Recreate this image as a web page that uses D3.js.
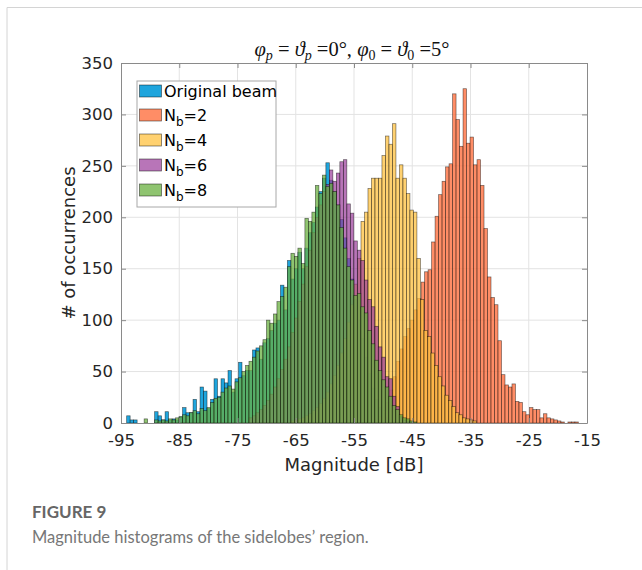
<!DOCTYPE html>
<html>
<head>
<meta charset="utf-8">
<script src="https://cdn.jsdelivr.net/npm/d3@7"></script>
<style>
  body { margin: 0; background: #fff; }
  text { font-family: "DejaVu Sans", sans-serif; }
</style>
</head>
<body>
<svg id="fig" width="642" height="570"></svg>
<script>
// histogram bin width in dB
var binW = 0.6;

// Original beam
var beamStart = -94.03;
var beamCounts = [7, 3, 3, 0, 0, 0, 0, 0, 11, 7, 3, 11, 3, 4, 3, 6, 15, 10, 10, 23,
  11, 35, 31, 14, 23, 43, 26, 43, 39, 51, 30, 43, 59, 46, 51, 51, 71, 73, 62, 78,
  82, 90, 97, 100, 134, 110, 158, 140, 150, 166, 150, 170, 185, 195, 210, 225, 238, 253, 236, 225,
  212, 198, 180, 160, 140, 120, 100, 82, 64, 48, 34, 23, 15, 9, 5, 3, 2, 1];

// N_b = 2
var nb2Start = -51.88;
var nb2Counts = [1, 3, 6, 12, 20, 32, 45, 60, 72, 84, 92, 100, 110, 121, 137, 147, 149, 176, 201, 222,
  235, 249, 252, 320, 295, 269, 325, 272, 278, 251, 256, 231, 189, 142, 122, 115, 80, 47, 37, 35,
  38, 21, 20, 11, 8, 15, 13, 13, 5, 9, 5, 4, 3, 2, 1, 0, 1, 1, 1];

// N_b = 4
var nb4Start = -65.8;
var nb4Counts = [2, 3, 4, 5, 7, 9, 12, 15, 19, 24, 30, 38, 46, 56, 68, 82, 98, 115, 135, 160,
  196, 205, 228, 238, 238, 238, 260, 279, 271, 291, 238, 251, 238, 223, 207, 205, 160, 120, 90, 84,
  68, 56, 45, 36, 27, 22, 16, 10, 8, 5, 4, 3, 2];

// N_b = 6
var nb6Start = -73.03;
var nb6Counts = [5, 7, 10, 13, 17, 22, 28, 35, 43, 52, 62, 74, 88, 102, 118, 135, 152, 168, 185, 200,
  212, 225, 232, 246, 235, 243, 254, 256, 213, 204, 177, 168, 158, 139, 120, 113, 94, 74, 64, 45,
  43, 26, 16, 6, 3, 2, 1];

// N_b = 8
var nb8Start = -94.03;
var nb8Counts = [0, 0, 0, 0, 0, 4, 0, 0, 3, 2, 3, 2, 4, 3, 5, 6, 8, 7, 10, 12,
  9, 14, 12, 15, 20, 24, 25, 30, 34, 36, 33, 40, 44, 50, 56, 60, 64, 70, 75, 81,
  100, 97, 106, 118, 123, 132, 152, 165, 162, 170, 155, 199, 196, 205, 231, 223, 241, 230, 233, 225,
  212, 190, 170, 152, 139, 124, 126, 113, 107, 90, 77, 61, 51, 42, 35, 26, 17, 13, 8, 5,
  4, 2, 1];

var xTicks = [-95, -85, -75, -65, -55, -45, -35, -25, -15];
var yTicks = [0, 50, 100, 150, 200, 250, 300, 350];

var series = [
  { label: "Original beam", sub: null, start: beamStart, counts: beamCounts, color: "#0098d8", op: 0.88 },
  { label: "N", sub: "b", tail: "=2", start: nb2Start, counts: nb2Counts, color: "#ff7040", op: 0.8 },
  { label: "N", sub: "b", tail: "=4", start: nb4Start, counts: nb4Counts, color: "#ffc240", op: 0.75 },
  { label: "N", sub: "b", tail: "=6", start: nb6Start, counts: nb6Counts, color: "#9a3a9a", op: 0.7 },
  { label: "N", sub: "b", tail: "=8", start: nb8Start, counts: nb8Counts, color: "#6ab040", op: 0.75 }
];

var svg = d3.select("#fig");

// card border
svg.append("path").attr("d", "M7,570 V7.5 H642")
  .attr("fill", "none").attr("stroke", "#d4d4d4").attr("stroke-width", 1);

var x = d3.scaleLinear().domain([-95, -15]).range([121, 587]);
var y = d3.scaleLinear().domain([0, 350]).range([423, 63]);

// grid
var grid = svg.append("g");
grid.selectAll("line.gx").data(xTicks.slice(1, -1)).enter().append("line")
  .attr("x1", function(d) { return x(d); }).attr("x2", function(d) { return x(d); })
  .attr("y1", y(0)).attr("y2", y(350))
  .attr("stroke", "#e3e3e3").attr("stroke-width", 1);
grid.selectAll("line.gy").data(yTicks.slice(1, -1)).enter().append("line")
  .attr("y1", function(d) { return y(d); }).attr("y2", function(d) { return y(d); })
  .attr("x1", x(-95)).attr("x2", x(-15))
  .attr("stroke", "#e3e3e3").attr("stroke-width", 1);

// histograms
series.forEach(function(s) {
  svg.append("g").selectAll("rect")
    .data(s.counts.map(function(c, i) { return { c: c, i: i }; }).filter(function(d) { return d.c > 0; }))
    .enter().append("rect")
    .attr("x", function(d) { return x(s.start + d.i * binW); })
    .attr("width", function(d) { return x(s.start + (d.i + 1) * binW) - x(s.start + d.i * binW); })
    .attr("y", function(d) { return y(d.c); })
    .attr("height", function(d) { return y(0) - y(d.c); })
    .attr("fill", s.color).attr("fill-opacity", s.op)
    .attr("stroke", "#000").attr("stroke-opacity", 0.55).attr("stroke-width", 0.7);
});

// axes
var axCol = "#262626";
var xAxis = svg.append("g").attr("transform", "translate(0," + y(0) + ")")
  .call(d3.axisBottom(x).tickValues(xTicks).tickSizeInner(-5).tickSizeOuter(0).tickPadding(11)
    .tickFormat(d3.format("d")));
var xTop = svg.append("g").attr("transform", "translate(0," + y(350) + ")")
  .call(d3.axisTop(x).tickValues(xTicks).tickSizeInner(-5).tickSizeOuter(0).tickFormat(""));
var yAxis = svg.append("g").attr("transform", "translate(" + x(-95) + ",0)")
  .call(d3.axisLeft(y).tickValues(yTicks).tickSizeInner(-5).tickSizeOuter(0).tickPadding(8));
var yRight = svg.append("g").attr("transform", "translate(" + x(-15) + ",0)")
  .call(d3.axisRight(y).tickValues(yTicks).tickSizeInner(-5).tickSizeOuter(0).tickFormat(""));
[xAxis, xTop, yAxis, yRight].forEach(function(a) {
  a.select(".domain").attr("stroke", "#8a8a8a");
  a.selectAll(".tick line").attr("stroke", "#8a8a8a");
  a.selectAll("text").attr("fill", axCol).style("font-size", "16.5px")
    .style("font-family", "DejaVu Sans, sans-serif");
});
xAxis.selectAll("text").text(function(d) { return d; });

// axis labels
svg.append("text").attr("x", 354).attr("y", 471).attr("text-anchor", "middle")
  .attr("fill", axCol).style("font-size", "18px").text("Magnitude [dB]");
svg.append("text").attr("transform", "translate(75,243) rotate(-90)").attr("text-anchor", "middle")
  .attr("fill", axCol).style("font-size", "18px").text("# of occurrences");

// title
var title = svg.append("text").attr("x", 352).attr("y", 56).attr("text-anchor", "middle")
  .attr("fill", "#111").style("font-family", "Liberation Serif, serif").style("font-size", "20.5px");
var tparts = [
  ["φ", "i"], ["p", "s"], [" = ", ""], ["ϑ", "i"], ["p", "s"], [" =0°, ", ""],
  ["φ", "i"], ["0", "s"], [" = ", ""], ["ϑ", "i"], ["0", "s"], [" =5°", ""]
];
tparts.forEach(function(p, i) {
  var t = title.append("tspan").text(p[0]);
  if (p[1] === "i") t.style("font-style", "italic");
  if (p[1] === "s") t.style("font-style", p[0] === "p" ? "italic" : "normal").style("font-size", "14px").attr("dy", 4);
  if (i > 0 && tparts[i - 1][1] === "s") t.attr("dy", -4);
});

// legend
var lg = svg.append("g");
lg.append("rect").attr("x", 137).attr("y", 81).attr("width", 139).attr("height", 126)
  .attr("fill", "#fff").attr("stroke", "#a8a8a8").attr("stroke-width", 1);
var rowY = [91, 115, 140, 165, 190];
series.forEach(function(s, i) {
  lg.append("rect").attr("x", 139.5).attr("y", rowY[i] - 6).attr("width", 22).attr("height", 12)
    .attr("fill", s.color).attr("fill-opacity", s.op)
    .attr("stroke", "#000").attr("stroke-opacity", 0.55).attr("stroke-width", 0.8);
  var t = lg.append("text").attr("x", 164).attr("y", rowY[i] + 6).attr("fill", "#000")
    .style("font-size", "16px");
  t.append("tspan").text(s.label);
  if (s.sub) {
    t.append("tspan").text(s.sub).attr("dy", 5).style("font-size", "12px");
    t.append("tspan").text(s.tail).attr("dy", -5);
  }
});

// caption
svg.append("text").attr("x", 32).attr("y", 518).attr("fill", "#666")
  .style("font-family", "Lato, sans-serif").style("font-weight", 700).style("font-size", "17px")
  .text("FIGURE 9");
svg.append("text").attr("x", 32).attr("y", 543).attr("fill", "#777")
  .style("font-family", "Lato, sans-serif").style("font-size", "16.5px")
  .text("Magnitude histograms of the sidelobes’ region.");
</script>
</body>
</html>
